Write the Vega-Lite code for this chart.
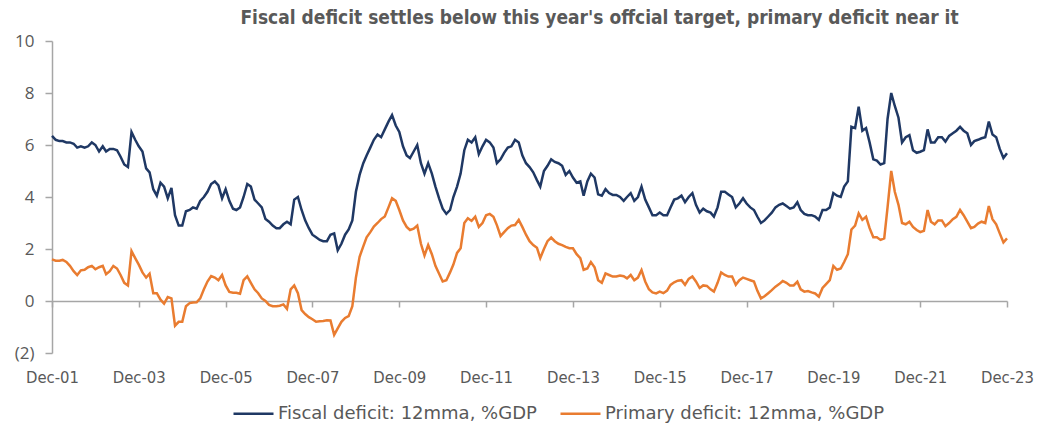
{
  "$schema": "https://vega.github.io/schema/vega-lite/v6.json",
  "width": 955,
  "height": 312,
  "autosize": {"type": "none"},
  "padding": {"left": 52, "top": 41, "right": 41, "bottom": 75},
  "background": "white",
  "title": {
    "text": "Fiscal deficit settles below this year's offcial target, primary deficit near it",
    "anchor": "middle",
    "dx": 70,
    "offset": 4,
    "font": "DejaVu Sans Condensed, sans-serif",
    "fontSize": 19,
    "fontWeight": "bold",
    "color": "#595959"
  },
  "config": {"view": {"stroke": null}},
  "data": {
    "format": {"parse": {"d": "utc:'%Y-%m'"}},
    "values": [
      {"d":"2001-12","f":6.35,"p":1.6},
      {"d":"2002-01","f":6.2,"p":1.55},
      {"d":"2002-02","f":6.15,"p":1.55},
      {"d":"2002-03","f":6.15,"p":1.58},
      {"d":"2002-04","f":6.1,"p":1.5},
      {"d":"2002-05","f":6.1,"p":1.35},
      {"d":"2002-06","f":6.05,"p":1.15},
      {"d":"2002-07","f":5.9,"p":1.0},
      {"d":"2002-08","f":5.95,"p":1.18},
      {"d":"2002-09","f":5.9,"p":1.2},
      {"d":"2002-10","f":5.95,"p":1.3},
      {"d":"2002-11","f":6.1,"p":1.35},
      {"d":"2002-12","f":6.0,"p":1.22},
      {"d":"2003-01","f":5.75,"p":1.3},
      {"d":"2003-02","f":5.95,"p":1.35},
      {"d":"2003-03","f":5.75,"p":1.03},
      {"d":"2003-04","f":5.85,"p":1.15},
      {"d":"2003-05","f":5.85,"p":1.35},
      {"d":"2003-06","f":5.8,"p":1.25},
      {"d":"2003-07","f":5.55,"p":1.0},
      {"d":"2003-08","f":5.25,"p":0.7},
      {"d":"2003-09","f":5.15,"p":0.6},
      {"d":"2003-10","f":6.5,"p":1.92},
      {"d":"2003-11","f":6.2,"p":1.65},
      {"d":"2003-12","f":5.95,"p":1.4},
      {"d":"2004-01","f":5.75,"p":1.1},
      {"d":"2004-02","f":5.1,"p":0.9},
      {"d":"2004-03","f":4.95,"p":1.05},
      {"d":"2004-04","f":4.3,"p":0.3},
      {"d":"2004-05","f":4.05,"p":0.3},
      {"d":"2004-06","f":4.55,"p":0.05},
      {"d":"2004-07","f":4.4,"p":-0.1},
      {"d":"2004-08","f":3.95,"p":0.15},
      {"d":"2004-09","f":4.35,"p":0.1},
      {"d":"2004-10","f":3.3,"p":-0.95},
      {"d":"2004-11","f":2.9,"p":-0.8},
      {"d":"2004-12","f":2.9,"p":-0.8},
      {"d":"2005-01","f":3.45,"p":-0.2},
      {"d":"2005-02","f":3.5,"p":-0.08},
      {"d":"2005-03","f":3.6,"p":-0.06},
      {"d":"2005-04","f":3.55,"p":-0.05},
      {"d":"2005-05","f":3.85,"p":0.1},
      {"d":"2005-06","f":4.0,"p":0.45},
      {"d":"2005-07","f":4.2,"p":0.75},
      {"d":"2005-08","f":4.5,"p":0.96},
      {"d":"2005-09","f":4.6,"p":0.9},
      {"d":"2005-10","f":4.45,"p":0.8},
      {"d":"2005-11","f":3.95,"p":1.0},
      {"d":"2005-12","f":4.3,"p":0.6},
      {"d":"2006-01","f":3.85,"p":0.35},
      {"d":"2006-02","f":3.55,"p":0.32},
      {"d":"2006-03","f":3.5,"p":0.32},
      {"d":"2006-04","f":3.6,"p":0.28},
      {"d":"2006-05","f":4.0,"p":0.8},
      {"d":"2006-06","f":4.5,"p":0.95},
      {"d":"2006-07","f":4.4,"p":0.7},
      {"d":"2006-08","f":3.9,"p":0.45},
      {"d":"2006-09","f":3.75,"p":0.3},
      {"d":"2006-10","f":3.6,"p":0.1},
      {"d":"2006-11","f":3.15,"p":0.0},
      {"d":"2006-12","f":3.05,"p":-0.15},
      {"d":"2007-01","f":2.9,"p":-0.2},
      {"d":"2007-02","f":2.8,"p":-0.2},
      {"d":"2007-03","f":2.8,"p":-0.18},
      {"d":"2007-04","f":2.95,"p":-0.13},
      {"d":"2007-05","f":3.05,"p":-0.3},
      {"d":"2007-06","f":2.95,"p":0.45},
      {"d":"2007-07","f":3.9,"p":0.6},
      {"d":"2007-08","f":4.0,"p":0.3},
      {"d":"2007-09","f":3.5,"p":-0.35},
      {"d":"2007-10","f":3.1,"p":-0.5},
      {"d":"2007-11","f":2.8,"p":-0.62},
      {"d":"2007-12","f":2.55,"p":-0.7},
      {"d":"2008-01","f":2.45,"p":-0.8},
      {"d":"2008-02","f":2.35,"p":-0.78},
      {"d":"2008-03","f":2.3,"p":-0.77},
      {"d":"2008-04","f":2.3,"p":-0.74},
      {"d":"2008-05","f":2.55,"p":-0.75},
      {"d":"2008-06","f":2.6,"p":-1.3},
      {"d":"2008-07","f":1.95,"p":-1.05},
      {"d":"2008-08","f":2.2,"p":-0.8},
      {"d":"2008-09","f":2.55,"p":-0.65},
      {"d":"2008-10","f":2.75,"p":-0.58},
      {"d":"2008-11","f":3.1,"p":-0.2},
      {"d":"2008-12","f":4.2,"p":0.9},
      {"d":"2009-01","f":4.85,"p":1.7},
      {"d":"2009-02","f":5.3,"p":2.1},
      {"d":"2009-03","f":5.6,"p":2.45},
      {"d":"2009-04","f":5.9,"p":2.65},
      {"d":"2009-05","f":6.2,"p":2.86},
      {"d":"2009-06","f":6.4,"p":3.0},
      {"d":"2009-07","f":6.3,"p":3.15},
      {"d":"2009-08","f":6.6,"p":3.25},
      {"d":"2009-09","f":6.9,"p":3.6},
      {"d":"2009-10","f":7.15,"p":3.95},
      {"d":"2009-11","f":6.75,"p":3.85},
      {"d":"2009-12","f":6.5,"p":3.5},
      {"d":"2010-01","f":5.95,"p":3.1},
      {"d":"2010-02","f":5.6,"p":2.85},
      {"d":"2010-03","f":5.5,"p":2.73},
      {"d":"2010-04","f":5.75,"p":2.78},
      {"d":"2010-05","f":6.0,"p":2.9},
      {"d":"2010-06","f":5.3,"p":2.2},
      {"d":"2010-07","f":4.9,"p":1.75},
      {"d":"2010-08","f":5.3,"p":2.15},
      {"d":"2010-09","f":4.9,"p":1.8},
      {"d":"2010-10","f":4.4,"p":1.35},
      {"d":"2010-11","f":3.95,"p":1.05},
      {"d":"2010-12","f":3.55,"p":0.75},
      {"d":"2011-01","f":3.35,"p":0.8},
      {"d":"2011-02","f":3.5,"p":1.1},
      {"d":"2011-03","f":4.0,"p":1.4},
      {"d":"2011-04","f":4.4,"p":1.85},
      {"d":"2011-05","f":4.9,"p":2.03},
      {"d":"2011-06","f":5.8,"p":3.0},
      {"d":"2011-07","f":6.2,"p":3.18},
      {"d":"2011-08","f":6.1,"p":3.08},
      {"d":"2011-09","f":6.3,"p":3.24},
      {"d":"2011-10","f":5.65,"p":2.85},
      {"d":"2011-11","f":5.95,"p":3.0},
      {"d":"2011-12","f":6.2,"p":3.3},
      {"d":"2012-01","f":6.1,"p":3.35},
      {"d":"2012-02","f":5.9,"p":3.24},
      {"d":"2012-03","f":5.3,"p":2.92},
      {"d":"2012-04","f":5.45,"p":2.5},
      {"d":"2012-05","f":5.7,"p":2.65},
      {"d":"2012-06","f":5.9,"p":2.8},
      {"d":"2012-07","f":5.95,"p":2.9},
      {"d":"2012-08","f":6.2,"p":2.92},
      {"d":"2012-09","f":6.1,"p":3.12},
      {"d":"2012-10","f":5.6,"p":2.85},
      {"d":"2012-11","f":5.3,"p":2.55},
      {"d":"2012-12","f":5.15,"p":2.3},
      {"d":"2013-01","f":4.95,"p":2.15},
      {"d":"2013-02","f":4.65,"p":2.05},
      {"d":"2013-03","f":4.4,"p":1.65},
      {"d":"2013-04","f":5.0,"p":2.0},
      {"d":"2013-05","f":5.2,"p":2.3},
      {"d":"2013-06","f":5.45,"p":2.44},
      {"d":"2013-07","f":5.35,"p":2.3},
      {"d":"2013-08","f":5.3,"p":2.2},
      {"d":"2013-09","f":5.2,"p":2.15},
      {"d":"2013-10","f":4.85,"p":2.08},
      {"d":"2013-11","f":5.0,"p":2.03},
      {"d":"2013-12","f":4.75,"p":2.03},
      {"d":"2014-01","f":4.55,"p":1.8},
      {"d":"2014-02","f":4.6,"p":1.65},
      {"d":"2014-03","f":4.05,"p":1.2},
      {"d":"2014-04","f":4.6,"p":1.25},
      {"d":"2014-05","f":4.9,"p":1.5},
      {"d":"2014-06","f":4.75,"p":1.3},
      {"d":"2014-07","f":4.1,"p":0.8},
      {"d":"2014-08","f":4.05,"p":0.7},
      {"d":"2014-09","f":4.3,"p":1.06},
      {"d":"2014-10","f":4.15,"p":1.0},
      {"d":"2014-11","f":4.08,"p":0.94},
      {"d":"2014-12","f":4.08,"p":0.94},
      {"d":"2015-01","f":4.0,"p":0.98},
      {"d":"2015-02","f":3.85,"p":0.95},
      {"d":"2015-03","f":4.0,"p":0.87},
      {"d":"2015-04","f":4.15,"p":1.0},
      {"d":"2015-05","f":3.85,"p":0.8},
      {"d":"2015-06","f":4.0,"p":0.9},
      {"d":"2015-07","f":4.4,"p":1.19},
      {"d":"2015-08","f":3.9,"p":0.75},
      {"d":"2015-09","f":3.6,"p":0.45},
      {"d":"2015-10","f":3.3,"p":0.33},
      {"d":"2015-11","f":3.3,"p":0.29},
      {"d":"2015-12","f":3.4,"p":0.36},
      {"d":"2016-01","f":3.3,"p":0.3},
      {"d":"2016-02","f":3.3,"p":0.4},
      {"d":"2016-03","f":3.6,"p":0.62},
      {"d":"2016-04","f":3.9,"p":0.72},
      {"d":"2016-05","f":3.95,"p":0.78},
      {"d":"2016-06","f":4.05,"p":0.8},
      {"d":"2016-07","f":3.8,"p":0.62},
      {"d":"2016-08","f":4.0,"p":0.85},
      {"d":"2016-09","f":4.15,"p":0.94},
      {"d":"2016-10","f":3.7,"p":0.75},
      {"d":"2016-11","f":3.4,"p":0.5},
      {"d":"2016-12","f":3.55,"p":0.6},
      {"d":"2017-01","f":3.45,"p":0.58},
      {"d":"2017-02","f":3.4,"p":0.45},
      {"d":"2017-03","f":3.25,"p":0.36},
      {"d":"2017-04","f":3.6,"p":0.7},
      {"d":"2017-05","f":4.2,"p":1.1},
      {"d":"2017-06","f":4.2,"p":1.0},
      {"d":"2017-07","f":4.1,"p":0.94},
      {"d":"2017-08","f":4.0,"p":0.94},
      {"d":"2017-09","f":3.6,"p":0.62},
      {"d":"2017-10","f":3.75,"p":0.8},
      {"d":"2017-11","f":3.95,"p":0.9},
      {"d":"2017-12","f":3.75,"p":0.85},
      {"d":"2018-01","f":3.6,"p":0.8},
      {"d":"2018-02","f":3.5,"p":0.75},
      {"d":"2018-03","f":3.25,"p":0.4},
      {"d":"2018-04","f":3.0,"p":0.1},
      {"d":"2018-05","f":3.1,"p":0.18},
      {"d":"2018-06","f":3.25,"p":0.3},
      {"d":"2018-07","f":3.4,"p":0.42},
      {"d":"2018-08","f":3.6,"p":0.55},
      {"d":"2018-09","f":3.7,"p":0.65},
      {"d":"2018-10","f":3.75,"p":0.77},
      {"d":"2018-11","f":3.65,"p":0.7},
      {"d":"2018-12","f":3.55,"p":0.6},
      {"d":"2019-01","f":3.6,"p":0.6},
      {"d":"2019-02","f":3.8,"p":0.74},
      {"d":"2019-03","f":3.5,"p":0.45},
      {"d":"2019-04","f":3.35,"p":0.36},
      {"d":"2019-05","f":3.3,"p":0.38},
      {"d":"2019-06","f":3.3,"p":0.33},
      {"d":"2019-07","f":3.25,"p":0.29},
      {"d":"2019-08","f":3.12,"p":0.17},
      {"d":"2019-09","f":3.5,"p":0.5},
      {"d":"2019-10","f":3.5,"p":0.65},
      {"d":"2019-11","f":3.6,"p":0.8},
      {"d":"2019-12","f":4.15,"p":1.35},
      {"d":"2020-01","f":4.05,"p":1.2},
      {"d":"2020-02","f":4.0,"p":1.25},
      {"d":"2020-03","f":4.4,"p":1.5},
      {"d":"2020-04","f":4.6,"p":1.8},
      {"d":"2020-05","f":6.7,"p":2.75},
      {"d":"2020-06","f":6.65,"p":2.9},
      {"d":"2020-07","f":7.47,"p":3.37},
      {"d":"2020-08","f":6.55,"p":3.12},
      {"d":"2020-09","f":6.65,"p":3.24},
      {"d":"2020-10","f":6.1,"p":2.8},
      {"d":"2020-11","f":5.45,"p":2.45},
      {"d":"2020-12","f":5.4,"p":2.45},
      {"d":"2021-01","f":5.25,"p":2.35},
      {"d":"2021-02","f":5.3,"p":2.41},
      {"d":"2021-03","f":7.0,"p":3.6},
      {"d":"2021-04","f":8.0,"p":5.0},
      {"d":"2021-05","f":7.5,"p":4.2},
      {"d":"2021-06","f":7.05,"p":3.7},
      {"d":"2021-07","f":6.1,"p":3.0},
      {"d":"2021-08","f":6.3,"p":2.95},
      {"d":"2021-09","f":6.38,"p":3.05},
      {"d":"2021-10","f":5.8,"p":2.85},
      {"d":"2021-11","f":5.7,"p":2.73},
      {"d":"2021-12","f":5.74,"p":2.65},
      {"d":"2022-01","f":5.8,"p":2.7},
      {"d":"2022-02","f":6.6,"p":3.5},
      {"d":"2022-03","f":6.1,"p":3.05},
      {"d":"2022-04","f":6.1,"p":2.95},
      {"d":"2022-05","f":6.3,"p":3.1},
      {"d":"2022-06","f":6.3,"p":3.1},
      {"d":"2022-07","f":6.13,"p":2.88},
      {"d":"2022-08","f":6.35,"p":3.0},
      {"d":"2022-09","f":6.45,"p":3.15},
      {"d":"2022-10","f":6.55,"p":3.24},
      {"d":"2022-11","f":6.7,"p":3.5},
      {"d":"2022-12","f":6.55,"p":3.3},
      {"d":"2023-01","f":6.45,"p":3.05},
      {"d":"2023-02","f":6.0,"p":2.8},
      {"d":"2023-03","f":6.15,"p":2.85},
      {"d":"2023-04","f":6.2,"p":2.98},
      {"d":"2023-05","f":6.26,"p":3.05},
      {"d":"2023-06","f":6.3,"p":3.0},
      {"d":"2023-07","f":6.9,"p":3.65},
      {"d":"2023-08","f":6.4,"p":3.15},
      {"d":"2023-09","f":6.3,"p":2.95},
      {"d":"2023-10","f":5.85,"p":2.6},
      {"d":"2023-11","f":5.5,"p":2.25},
      {"d":"2023-12","f":5.68,"p":2.41}
    ]
  },
  "transform": [{"fold": ["f", "p"], "as": ["s", "v"]}],
  "layer": [
    {
      "mark": {"type": "line", "strokeWidth": 2.5},
      "encoding": {
        "x": {
          "field": "d",
          "type": "temporal",
          "scale": {
            "type": "utc",
            "domain": [
              {"year": 2001, "month": 12, "date": 1, "utc": true},
              {"year": 2023, "month": 12, "date": 1, "utc": true}
            ]
          },
          "axis": {
            "title": null,
            "orient": "bottom",
            "domain": false,
            "ticks": false,
            "grid": false,
            "values": [
              {"year": 2001, "month": 12, "date": 1, "utc": true},
              {"year": 2003, "month": 12, "date": 1, "utc": true},
              {"year": 2005, "month": 12, "date": 1, "utc": true},
              {"year": 2007, "month": 12, "date": 1, "utc": true},
              {"year": 2009, "month": 12, "date": 1, "utc": true},
              {"year": 2011, "month": 12, "date": 1, "utc": true},
              {"year": 2013, "month": 12, "date": 1, "utc": true},
              {"year": 2015, "month": 12, "date": 1, "utc": true},
              {"year": 2017, "month": 12, "date": 1, "utc": true},
              {"year": 2019, "month": 12, "date": 1, "utc": true},
              {"year": 2021, "month": 12, "date": 1, "utc": true},
              {"year": 2023, "month": 12, "date": 1, "utc": true}
            ],
            "labelExpr": "utcFormat(datum.value, '%b-%y')",
            "labelFont": "DejaVu Sans Condensed, sans-serif",
            "labelFontSize": 16.5,
            "labelColor": "#595959",
            "labelPadding": 16,
            "labelAlign": "center",
            "labelFlush": false,
            "labelOverlap": false,
            "labelBound": false
          }
        },
        "y": {
          "field": "v",
          "type": "quantitative",
          "scale": {"domain": [-2, 10], "nice": false, "zero": false},
          "axis": {
            "title": null,
            "values": [-2, 0, 2, 4, 6, 8, 10],
            "labelExpr": "datum.value < 0 ? '(' + abs(datum.value) + ')' : datum.label",
            "grid": false,
            "domainColor": "#A6A6A6",
            "domainWidth": 1.5,
            "tickColor": "#A6A6A6",
            "tickSize": 7,
            "tickWidth": 1.5,
            "labelPadding": 11,
            "labelFont": "Open Sans",
            "labelFontSize": 17,
            "labelColor": "#595959"
          }
        },
        "color": {
          "field": "s",
          "type": "nominal",
          "scale": {"domain": ["f", "p"], "range": ["#1F3864", "#E97C30"]},
          "legend": {
            "title": null,
            "orient": "none",
            "legendX": 180,
            "legendY": 351,
            "direction": "horizontal",
            "symbolType": "stroke",
            "symbolSize": 1600,
            "symbolStrokeWidth": 2.5,
            "labelExpr": "datum.label == 'f' ? 'Fiscal deficit: 12mma, %GDP' : 'Primary deficit: 12mma, %GDP'",
            "labelFont": "DejaVu Sans, sans-serif",
            "labelFontSize": 18,
            "labelLimit": 500,
            "labelColor": "#595959",
            "labelOffset": 3,
            "columnPadding": 18
          }
        }
      }
    },
    {
      "mark": {"type": "rule", "strokeOpacity": 0},
      "encoding": {
        "x": {
          "field": "d",
          "type": "temporal",
          "axis": {
            "title": null,
            "orient": "bottom",
            "offset": -52,
            "labels": false,
            "grid": false,
            "domainColor": "#A6A6A6",
            "domainWidth": 1.5,
            "tickColor": "#A6A6A6",
            "tickSize": 6,
            "tickWidth": 1.5,
            "values": [
              {"year": 2001, "month": 12, "date": 1, "utc": true},
              {"year": 2003, "month": 12, "date": 1, "utc": true},
              {"year": 2005, "month": 12, "date": 1, "utc": true},
              {"year": 2007, "month": 12, "date": 1, "utc": true},
              {"year": 2009, "month": 12, "date": 1, "utc": true},
              {"year": 2011, "month": 12, "date": 1, "utc": true},
              {"year": 2013, "month": 12, "date": 1, "utc": true},
              {"year": 2015, "month": 12, "date": 1, "utc": true},
              {"year": 2017, "month": 12, "date": 1, "utc": true},
              {"year": 2019, "month": 12, "date": 1, "utc": true},
              {"year": 2021, "month": 12, "date": 1, "utc": true},
              {"year": 2023, "month": 12, "date": 1, "utc": true}
            ]
          }
        }
      }
    }
  ],
  "resolve": {"axis": {"x": "independent"}}
}
